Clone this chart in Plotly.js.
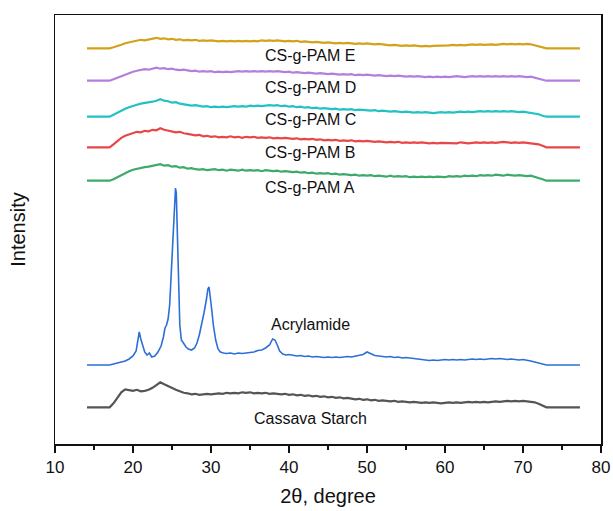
<!DOCTYPE html>
<html>
<head>
<meta charset="utf-8">
<script src="https://cdn.plot.ly/plotly-3.0.1.min.js"></script>
<style>html,body{margin:0;padding:0;background:#fff;}#chart{width:613px;height:511px;}</style>
</head>
<body>
<div id="chart"></div>
<script>
// 2θ grid shared by the broad-hump patterns
const twoTheta = [14.1, 17.0, 17.5, 18.0, 18.5, 19.0, 19.5, 20.0, 20.5, 21.0, 21.5, 22.0, 22.5, 23.0, 23.5, 24.0, 24.5, 25.0, 25.5, 26.0, 26.5, 27.0, 27.5, 28.0, 28.5, 29.0, 29.5, 30.0, 30.5, 31.0, 31.5, 32.0, 32.5, 33.0, 33.5, 34.0, 34.5, 35.0, 35.5, 36.0, 36.5, 37.0, 37.5, 38.0, 38.5, 39.0, 39.5, 40.0, 40.5, 41.0, 41.5, 42.0, 42.5, 43.0, 43.5, 44.0, 44.5, 45.0, 45.5, 46.0, 46.5, 47.0, 47.5, 48.0, 48.5, 49.0, 49.5, 50.0, 50.5, 51.0, 51.5, 52.0, 52.5, 53.0, 53.5, 54.0, 54.5, 55.0, 55.5, 56.0, 56.5, 57.0, 57.5, 58.0, 58.5, 59.0, 59.5, 60.0, 60.5, 61.0, 61.5, 62.0, 62.5, 63.0, 63.5, 64.0, 64.5, 65.0, 65.5, 66.0, 66.5, 67.0, 67.5, 68.0, 68.5, 69.0, 69.5, 70.0, 70.5, 71.0, 71.5, 72.0, 72.5, 73.0, 77.3];

const cassavaStarch = [0, 0, 4, 10, 15, 18, 17, 16.5, 17.5, 16, 16.5, 17.5, 19.5, 22, 25, 23, 21, 19, 17.5, 16, 14.5, 14, 13, 13.5, 12.5, 13, 13.5, 13, 13.5, 14, 13.5, 14.5, 14, 14.5, 14, 15, 14.5, 15, 14, 14.5, 14, 14.5, 13.5, 14, 13.5, 13, 13.5, 12.5, 13, 12, 12.5, 11.5, 12, 11, 11.5, 10.5, 11, 10, 10.5, 9.5, 10, 9, 9.5, 8.5, 8, 8.5, 7.5, 8, 7, 7.5, 6.5, 7, 6.5, 6, 6.5, 5.5, 6, 5.5, 5, 5.5, 5, 4.5, 5, 4.5, 5, 4.5, 4, 4.5, 5, 4.5, 5, 4.5, 5, 5.5, 5, 5.5, 5, 5.5, 5, 5.5, 6, 5.5, 6, 6.5, 6, 6.5, 6, 6.5, 6, 5.5, 5, 3.5, 1.5, 0, 0];

const pamA = [0, 0, 1.5, 3.5, 6, 8, 9.5, 11, 12, 12.5, 13.5, 14, 15, 15.5, 16.5, 15, 15.5, 14, 14.5, 13, 13.5, 12, 12.5, 11.5, 11, 11.5, 10.5, 11, 11.5, 10.5, 11, 10, 11, 10.5, 10, 11, 10, 10.5, 10, 10.5, 9.5, 10.5, 10, 9.5, 10, 9, 9.5, 9, 8.5, 9, 8, 8.5, 7.5, 8, 7, 7.5, 7, 7.5, 6.5, 7, 6, 6.5, 6, 5.5, 6, 5, 5.5, 5, 5.5, 4.5, 5, 4.5, 4, 5, 4, 4.5, 4, 4.5, 3.5, 4, 3.5, 4, 3.5, 4, 3.5, 4, 4, 3.5, 4.5, 4, 4.5, 4, 5, 4.5, 5, 4.5, 5.5, 5, 5.5, 5, 6, 5.5, 5, 6, 5.5, 5, 5.5, 5, 4.5, 5, 4, 3, 1.5, 0, 0];

const pamB = [0, 0, 3, 6.5, 9.5, 11.5, 13, 14, 15.5, 15, 16.5, 16, 17.5, 17, 19, 17.5, 16.5, 16, 15, 15.5, 14, 13.5, 13, 12, 12.5, 11, 11.5, 10.5, 11, 10, 10.5, 10, 11, 10, 10.5, 9.5, 10.5, 10, 10.5, 9.5, 10, 9.5, 10, 9, 9.5, 9, 9.5, 9, 8.5, 9, 8, 8.5, 8, 8.5, 7.5, 8, 7, 7.5, 7, 7.5, 6.5, 7, 6.5, 7, 6, 6.5, 6, 6.5, 6, 5.5, 6, 5.5, 5, 5.5, 5, 5.5, 4.5, 5, 4.5, 5, 4.5, 5, 4.5, 4, 4.5, 4, 4.5, 4.5, 4, 4.5, 4, 5, 4.5, 4, 4.5, 5, 4.5, 5, 4.5, 5, 4.5, 5, 5.5, 5, 4.5, 5, 4.5, 5, 4.5, 4.5, 4, 3, 1.5, 0, 0];

const pamC = [0, 0, 2, 4, 6.5, 8, 9.5, 11, 12, 13, 13.5, 14.5, 15, 16, 17.5, 16, 15.5, 14, 14.5, 13, 12.5, 12, 11, 11.5, 10.5, 10, 10.5, 9.5, 10, 9.5, 10, 9.5, 10, 10.5, 10, 10.5, 10, 11, 10.5, 11, 10.5, 11, 11.5, 11, 11.5, 10.5, 11, 10, 10.5, 9.5, 10, 9, 9.5, 8.5, 9, 8, 8.5, 8, 7.5, 8, 7, 7.5, 7, 7.5, 6.5, 7, 6.5, 6.5, 6, 6.5, 5.5, 6, 5.5, 5, 5.5, 5, 4.5, 5, 4.5, 4, 4.5, 4, 4.5, 4, 3.5, 4, 4.5, 4, 4.5, 4, 4.5, 5, 4.5, 5, 4.5, 5, 5.5, 5, 5.5, 5, 5.5, 5, 5.5, 5, 5.5, 5, 4.5, 5, 4.5, 4, 3.5, 2.5, 1, 0, 0];

const pamD = [0, 0, 1.5, 3, 5, 6.5, 8, 9, 10, 10.5, 11.5, 11, 12, 13, 12, 12.5, 11.5, 12, 11, 10.5, 11, 10, 9.5, 10, 9, 9.5, 9, 9.5, 8.5, 9, 8.5, 9, 8.5, 9, 9.5, 9, 9.5, 9, 9.5, 9, 9.5, 9, 9.5, 9, 9.5, 9, 8.5, 9, 8, 8.5, 8, 7.5, 8, 7.5, 7, 7.5, 7, 6.5, 7, 6.5, 6, 6.5, 6, 6.5, 5.5, 6, 5.5, 6, 5.5, 5, 5.5, 5, 4.5, 5, 4.5, 5, 4.5, 4, 4.5, 4, 4.5, 4, 3.5, 4, 3.5, 4, 3.5, 4, 3.5, 4, 4.5, 4, 3.5, 4, 4.5, 4, 4.5, 4, 4.5, 4, 4.5, 4, 4.5, 4, 4.5, 4, 4.5, 4, 3.5, 4, 3, 2, 1, 0, 0];

const pamE = [0, 0, 1, 2, 3.5, 5, 6, 7, 7.5, 8.5, 8, 9, 9.5, 10.5, 9.5, 10, 9, 9.5, 8.5, 9, 8, 8.5, 8, 8.5, 7.5, 8, 7.5, 8, 7.5, 7, 7.5, 7, 7.5, 7, 7.5, 7, 7.5, 7, 7.5, 7, 8, 7.5, 8, 7.5, 8, 7.5, 7, 7.5, 7, 7.5, 6.5, 7, 6.5, 6, 6.5, 6, 5.5, 6, 5.5, 5, 5.5, 5, 5.5, 5, 4.5, 5, 4.5, 5, 4.5, 4, 4.5, 4, 3.5, 3, 3.5, 3, 2.5, 3, 2.5, 3, 2.5, 2, 2.5, 2, 2.5, 2.5, 3, 2.5, 3, 3.5, 3, 3.5, 3, 3.5, 4, 3.5, 4, 3.5, 4, 4, 3.5, 4, 4.5, 4, 4.5, 4, 4.5, 4, 4.5, 4, 3, 2, 1, 0, 0];

// Acrylamide (crystalline) pattern on its own, finer grid
const acrylTheta = [14.1, 17.0, 17.5, 18.0, 18.5, 19.0, 19.5, 20.0, 20.4, 20.6, 20.8, 21.0, 21.2, 21.5, 21.8, 22.1, 22.4, 22.8, 23.2, 23.6, 23.9, 24.1, 24.3, 24.5, 24.7, 24.9, 25.1, 25.3, 25.45, 25.55, 25.7, 25.85, 26.0, 26.2, 26.5, 26.8, 27.1, 27.5, 27.9, 28.2, 28.5, 28.8, 29.1, 29.4, 29.6, 29.75, 29.9, 30.1, 30.3, 30.6, 30.9, 31.2, 31.6, 32.0, 32.5, 33.0, 33.5, 34.0, 34.5, 35.0, 35.5, 36.0, 36.5, 37.0, 37.5, 37.9, 38.2, 38.5, 38.8, 39.2, 39.6, 40.0, 40.5, 41.0, 41.5, 42.0, 42.5, 43.0, 43.5, 44.0, 44.5, 45.0, 45.5, 46.0, 46.5, 47.0, 47.5, 48.0, 48.5, 49.0, 49.5, 50.0, 50.3, 50.7, 51.0, 51.5, 52.0, 52.5, 53.0, 53.5, 54.0, 54.5, 55.0, 55.5, 56.0, 56.5, 57.0, 57.5, 58.0, 58.5, 59.0, 59.5, 60.0, 60.5, 61.0, 61.5, 62.0, 62.5, 63.0, 63.5, 64.0, 64.5, 65.0, 65.5, 66.0, 66.5, 67.0, 67.5, 68.0, 68.5, 69.0, 69.5, 70.0, 70.5, 71.0, 71.5, 72.0, 72.5, 73.0, 77.3];
const acrylamide = [0, 0, 1, 2, 3, 4, 6, 9, 14, 22, 33, 26, 20, 13, 10, 12, 8, 9, 13, 19, 28, 37, 40, 46, 60, 95, 130, 165, 177, 172, 135, 80, 40, 25, 21, 18, 16, 15, 17, 22, 30, 40, 52, 65, 76, 78, 70, 55, 40, 25, 16, 13, 12, 11.5, 12, 11, 12, 11.5, 12, 12.5, 13, 14.5, 15, 17, 20, 26, 25, 20, 14, 11, 10, 10.5, 9.5, 9, 9.5, 8.5, 9, 8, 8.5, 8, 7.5, 8, 7.5, 8, 7.5, 8, 8.5, 8, 9, 9.5, 10.5, 13, 12, 10.5, 9.5, 9, 8.5, 8, 8.5, 7.5, 8, 7, 7.5, 7, 6.5, 6, 5.5, 5, 4.5, 5, 4.5, 5, 5.5, 5, 5.5, 5, 5.5, 5, 5.5, 6, 5.5, 6, 5.5, 6, 6.5, 6, 6.5, 6, 5.5, 6, 5.5, 5, 5.5, 5, 4, 3, 2, 0.5, 0, 0];

// Vertical stacking offsets of each pattern (arbitrary intensity units)
const seriesNames = ['Cassava Starch', 'Acrylamide', 'CS-g-PAM A', 'CS-g-PAM B', 'CS-g-PAM C', 'CS-g-PAM D', 'CS-g-PAM E'];
const stackOffsets = [36.7, 79, 263.3, 296.7, 327.3, 363.3, 395.7];
const seriesColors = ['#555555', '#2C6FD8', '#3DAA6B', '#E8474A', '#22C2C4', '#B47FDB', '#D3A21B'];

const seriesX = [twoTheta, acrylTheta, twoTheta, twoTheta, twoTheta, twoTheta, twoTheta];
const seriesY = [cassavaStarch, acrylamide, pamA, pamB, pamC, pamD, pamE];

const traces = seriesNames.map((name, i) => ({
  type: 'scatter',
  mode: 'lines',
  name: name,
  x: seriesX[i],
  y: seriesY[i].map(v => v + stackOffsets[i]),
  line: {color: seriesColors[i], width: i === 1 ? 1.6 : 2.2},
  hoverinfo: 'skip'
}));

// label placement (position styling)
const labelX = 42.7;
const labelY = [26, 120, 257, 291.3, 324.7, 356.7, 389];
const annotations = seriesNames.map((name, i) => ({
  x: labelX, y: labelY[i], xref: 'x', yref: 'y',
  text: name, showarrow: false,
  font: {family: 'Liberation Sans, Arial, sans-serif', size: 16, color: '#111111'}
}));

const layout = {
  width: 613, height: 511,
  margin: {l: 55, r: 12, t: 15, b: 67},
  paper_bgcolor: '#ffffff', plot_bgcolor: '#ffffff',
  showlegend: false,
  font: {family: 'Liberation Sans, Arial, sans-serif', color: '#111111'},
  xaxis: {
    range: [10, 80], dtick: 10, tick0: 10,
    ticks: 'outside', ticklen: 7, tickwidth: 1.5, tickcolor: '#111',
    minor: {dtick: 5, ticks: 'outside', ticklen: 4, tickwidth: 1.5, tickcolor: '#111', showgrid: false},
    showline: true, linecolor: '#111', linewidth: 1.5, mirror: true,
    showgrid: false, zeroline: false,
    tickfont: {size: 17, color: '#111'},
    title: {text: '2θ, degree', font: {size: 20, color: '#111'}, standoff: 13}
  },
  yaxis: {
    range: [0, 429],
    showticklabels: false, ticks: '',
    showline: true, linecolor: '#111', linewidth: 1.5, mirror: true,
    showgrid: false, zeroline: false,
    title: {text: 'Intensity', font: {size: 20, color: '#111'}, standoff: 22}
  },
  annotations: annotations
};

Plotly.newPlot('chart', traces, layout, {staticPlot: true, displayModeBar: false});
</script>
</body>
</html>
